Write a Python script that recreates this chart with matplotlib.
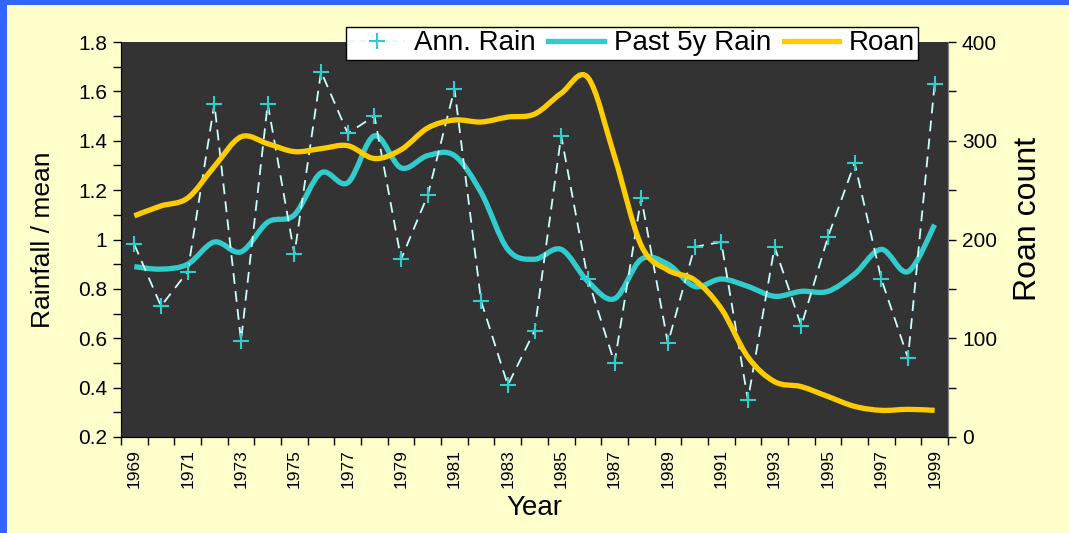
import matplotlib
matplotlib.use("Agg")
import matplotlib.pyplot as plt
import numpy as np
from matplotlib.path import Path
from matplotlib.patches import PathPatch, Rectangle
from matplotlib.lines import Line2D
from matplotlib.ticker import MultipleLocator, FixedLocator, FuncFormatter

plt.rcParams['font.family'] = ['Liberation Sans', 'DejaVu Sans']

# DONNEES
years = list(range(1969, 2000))
ann_rain = [0.98, 0.73, 0.87, 1.55, 0.59, 1.55, 0.94, 1.68, 1.43, 1.50,
            0.92, 1.18, 1.61, 0.75, 0.41, 0.63, 1.42, 0.84, 0.50, 1.17,
            0.58, 0.97, 0.99, 0.35, 0.97, 0.65, 1.01, 1.31, 0.84, 0.52, 1.63]
past5_rain = [0.89, 0.88, 0.90, 0.99, 0.95, 1.07, 1.10, 1.27, 1.23, 1.42,
              1.29, 1.34, 1.34, 1.19, 0.96, 0.92, 0.96, 0.83, 0.76, 0.92,
              0.90, 0.81, 0.84, 0.81, 0.77, 0.79, 0.79, 0.86, 0.96, 0.87, 1.06]
roan = [224, 234, 242, 274, 304, 297, 289, 292, 295, 282,
        291, 313, 321, 319, 324, 327, 348, 364, 284, 194,
        169, 159, 130, 81, 56, 51, 41, 31, 27, 28, 27]
year_labels = [str(y) for y in years[::2]]

BG = "#FFFFCC"
PLOT_BG = "#333333"
CYAN = "#33CCCC"
GOLD = "#FFCC00"
BLUE = "#3366FF"


# courbe lissee facon tableur (bezier cubique)
def smooth_path(x, y):
    n = len(x)
    verts = [(x[0], y[0])]
    codes = [Path.MOVETO]
    for i in range(n - 1):
        a = i - 1 if i > 0 else i
        d = i + 2 if i + 2 < n else i + 1
        c1 = (x[i] + (x[i + 1] - x[a]) / 6, y[i] + (y[i + 1] - y[a]) / 6)
        c2 = (x[i + 1] - (x[d] - x[i]) / 6, y[i + 1] - (y[d] - y[i]) / 6)
        verts += [c1, c2, (x[i + 1], y[i + 1])]
        codes += [Path.CURVE4] * 3
    return Path(verts, codes)


fig = plt.figure(figsize=(10.69, 5.33), dpi=100, facecolor=BG)
ax = fig.add_axes([121 / 1069, 1 - 437 / 533, (948 - 121) / 1069, (437 - 42) / 533])
ax.set_facecolor(PLOT_BG)
ax2 = ax.twinx()

# BORDURE BLEUE (gauche + haut)
fig.patches.append(Rectangle((0, 0), 7 / 1069, 1, transform=fig.transFigure,
                             facecolor=BLUE, edgecolor="none", zorder=0))
fig.patches.append(Rectangle((0, 1 - 5 / 533), 1, 5 / 533, transform=fig.transFigure,
                             facecolor=BLUE, edgecolor="none", zorder=0))

# SERIES
ax.plot(years, ann_rain, color="#CCFFFF", lw=1.3, dashes=(6, 4),
        marker="+", markersize=11, markeredgewidth=1.5, markeredgecolor=CYAN)
ax.add_patch(PathPatch(smooth_path(years, past5_rain), fill=False,
                       edgecolor=CYAN, lw=3.8, capstyle="butt"))
ax2.add_patch(PathPatch(smooth_path(years, roan), fill=False,
                        edgecolor=GOLD, lw=3.8, capstyle="butt"))

# AXES
ax.set_xlim(1968.5, 1999.5)
ax.set_ylim(0.2, 1.8)
ax2.set_ylim(0, 400)

ax.xaxis.set_major_locator(FixedLocator(years[::2]))
ax.set_xticklabels(year_labels, rotation=90, fontsize=12.5)
ax.xaxis.set_minor_locator(FixedLocator(np.arange(1968.5, 2000, 1)))
ax.tick_params(axis="x", which="major", length=0, pad=9)
ax.tick_params(axis="x", which="minor", length=6, width=1, color="black")

ax.yaxis.set_major_locator(MultipleLocator(0.2))
ax.yaxis.set_minor_locator(MultipleLocator(0.1))
ax.yaxis.set_major_formatter(FuncFormatter(lambda v, p: "%g" % round(v, 1)))
ax.tick_params(axis="y", which="both", length=6, width=1, labelsize=15, pad=4)

ax2.yaxis.set_major_locator(MultipleLocator(100))
ax2.yaxis.set_minor_locator(MultipleLocator(50))
ax2.tick_params(axis="y", which="both", length=6, width=1, labelsize=15, pad=4)

for a in (ax, ax2):
    a.spines["top"].set_visible(False)
    a.spines["left"].set_color("black")
    a.spines["bottom"].set_color("black")
    a.spines["right"].set_color("#808080")

# TITRES DES AXES
ax.set_xlabel("Year", fontsize=20)
ax.xaxis.set_label_coords(0.5, -(508 - 437) / 395)
ax.xaxis.label.set_va("center")
ax.set_ylabel("Rainfall / mean", fontsize=19)
ax.yaxis.set_label_coords(-(121 - 43) / 827, 0.5)
ax.yaxis.label.set_va("center")
ax2.set_ylabel("Roan count", fontsize=23)
ax2.yaxis.set_label_coords((1028 - 121) / 827, (437 - 219) / 395)
ax2.yaxis.label.set_va("center")

# LEGENDE
handles = [
    Line2D([], [], color="#CCFFFF", lw=1.3, dashes=(3, 3), marker="+",
           markersize=11, markeredgewidth=1.5, markeredgecolor=CYAN),
    Line2D([], [], color=CYAN, lw=3.8),
    Line2D([], [], color=GOLD, lw=3.8),
]
leg = fig.legend(handles, ["Ann. Rain", "Past 5y Rain", "Roan"], ncol=3,
                 loc="upper center", bbox_to_anchor=(632 / 1069, 1 - 27 / 533),
                 fontsize=20, frameon=True, fancybox=False, framealpha=1,
                 edgecolor="black", handlelength=2.0, handletextpad=0.35,
                 columnspacing=0.45, borderpad=0.12, borderaxespad=0,
                 numpoints=1)
leg.get_frame().set_linewidth(1)

fig.savefig("out.png", dpi=100, facecolor=BG)
